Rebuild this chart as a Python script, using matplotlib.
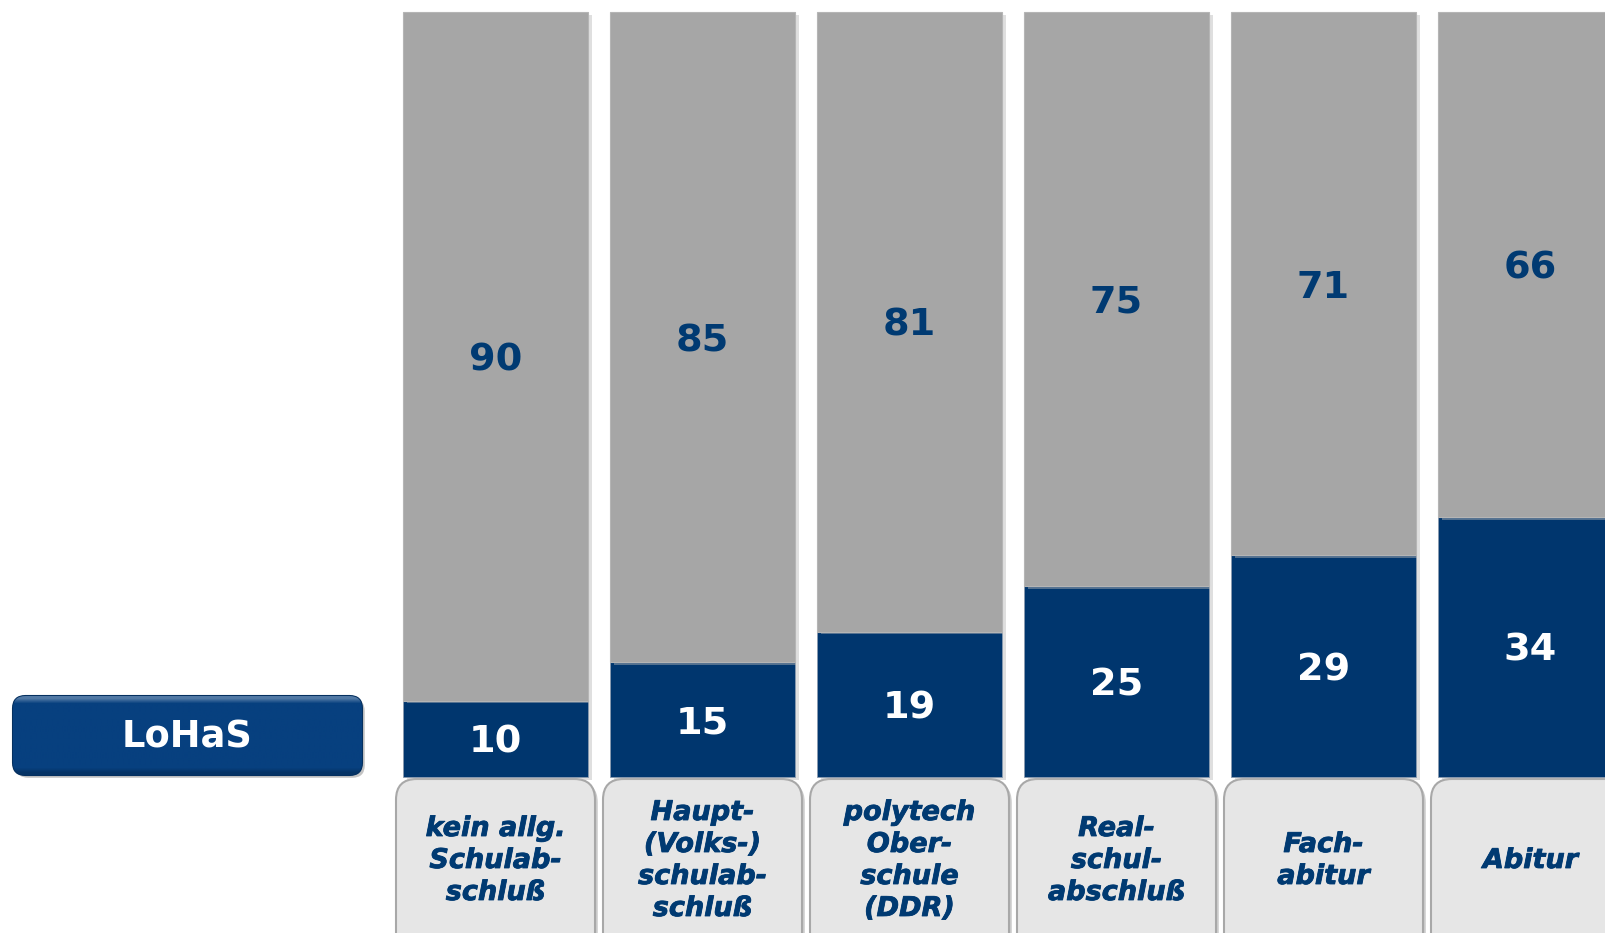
import matplotlib
matplotlib.use("Agg")
import matplotlib.pyplot as plt
import matplotlib.patches as mpatches
import matplotlib.patheffects as pe
import numpy as np

# Data
categories = [
    "kein allg.\nSchulab-\nschluß",
    "Haupt-\n(Volks-)\nschulab-\nschluß",
    "polytech\nOber-\nschule\n(DDR)",
    "Real-\nschul-\nabschluß",
    "Fach-\nabitur",
    "Abitur",
]
lohas = [10, 15, 19, 25, 29, 34]
rest = [90, 85, 81, 75, 71, 66]
group_label = "LoHaS"

NAVY = "#00366e"
GRAY = "#a6a6a6"
TEXT_NAVY = "#003a72"
BOX_FACE = "#e6e6e6"

# Layout (pixels of the 1605x933 canvas)
W, H = 1605, 933
PITCH = 207.0          # px between bar centres
X0 = 495.5             # px centre of first bar
Y_BASE = 777.0         # px (from top) of value 0
PX_PER_UNIT = 7.65     # px per percentage point

fig = plt.figure(figsize=(W / 100, H / 100), dpi=100)
ax = fig.add_axes([0, 0, 1, 1])
ax.set_xlim(-X0 / PITCH, (W - X0) / PITCH)
ax.set_ylim(-(H - Y_BASE) / PX_PER_UNIT, Y_BASE / PX_PER_UNIT)
ax.axis("off")


def px(x, y):
    """pixel (from top-left) -> data coords"""
    return (x - X0) / PITCH, (Y_BASE - y) / PX_PER_UNIT


x = np.arange(len(categories))
shadow = [pe.SimplePatchShadow(offset=(3, -2), shadow_rgbFace="#b8b8b8", alpha=0.45), pe.Normal()]

bars_lo = ax.bar(x, lohas, width=185 / PITCH, color=NAVY, edgecolor="#8a9bb0",
                 linewidth=0.6, zorder=3)
bars_hi = ax.bar(x, rest, bottom=lohas, width=185 / PITCH, color=GRAY,
                 edgecolor="#b5b5b5", linewidth=0.8, zorder=3)
for b in list(bars_lo) + list(bars_hi):
    b.set_path_effects(shadow)

dy = 4 / PX_PER_UNIT   # digits sit a little lower than the bbox centre
for i in range(len(categories)):
    ax.text(x[i], lohas[i] / 2 - dy, str(lohas[i]), ha="center", va="center",
            color="white", fontsize=27.5, fontweight="bold", zorder=5)
    ax.text(x[i], lohas[i] + rest[i] / 2 - dy, str(rest[i]), ha="center", va="center",
            color=TEXT_NAVY, fontsize=27.5, fontweight="bold", zorder=5)

# Category label boxes
aspect = PITCH / PX_PER_UNIT
box_w = 199 / PITCH
box_top = px(0, 779)[1]
box_bot = px(0, 960)[1]
box_shadow = [pe.SimplePatchShadow(offset=(2, -2), shadow_rgbFace="#9a9a9a", alpha=0.5), pe.Normal()]
for i, lab in enumerate(categories):
    box = mpatches.FancyBboxPatch(
        (x[i] - box_w / 2, box_bot), box_w, box_top - box_bot,
        boxstyle="round,pad=0,rounding_size=0.1", mutation_aspect=aspect,
        facecolor=BOX_FACE, edgecolor="#a8a8a8", linewidth=1.5, zorder=2,
    )
    box.set_path_effects(box_shadow)
    ax.add_patch(box)
    t = ax.text(x[i], px(0, 861)[1], lab, ha="center", va="center", color=TEXT_NAVY,
                fontsize=19.5, fontweight="bold", fontstyle="italic", linespacing=1.3, zorder=5)
    t.set_path_effects([pe.withStroke(linewidth=0.6, foreground=TEXT_NAVY)])

# LoHaS button
bx0, by0 = px(13, 775)
bx1, by1 = px(362, 696)
button = mpatches.FancyBboxPatch(
    (bx0, by0), bx1 - bx0, by1 - by0,
    boxstyle="round,pad=0,rounding_size=0.06", mutation_aspect=aspect,
    facecolor="#07407f", edgecolor="#05305f", linewidth=1.5, zorder=4,
)
button.set_path_effects([pe.SimplePatchShadow(offset=(2, -2), shadow_rgbFace="#888888", alpha=0.5), pe.Normal()])
ax.add_patch(button)
grad = np.array([0.3] + [0.0] * 14 + [-0.2])[:, None]
base = np.array([0x07, 0x40, 0x7f]) / 255
img = np.clip(base + grad[..., None] * np.where(grad[..., None] > 0, 1 - base, base), 0, 1)
im = ax.imshow(img, extent=(bx0, bx1, by0, by1), aspect="auto", interpolation="bilinear", zorder=4)
im.set_clip_path(button)
ax.text((bx0 + bx1) / 2, (by0 + by1) / 2 - 2 / PX_PER_UNIT, group_label, ha="center", va="center",
        color="white", fontsize=26.5, fontweight="bold", zorder=6)

ax.set_xlim(-X0 / PITCH, (W - X0) / PITCH)
ax.set_ylim(-(H - Y_BASE) / PX_PER_UNIT, Y_BASE / PX_PER_UNIT)
fig.savefig("out.png", dpi=100)
